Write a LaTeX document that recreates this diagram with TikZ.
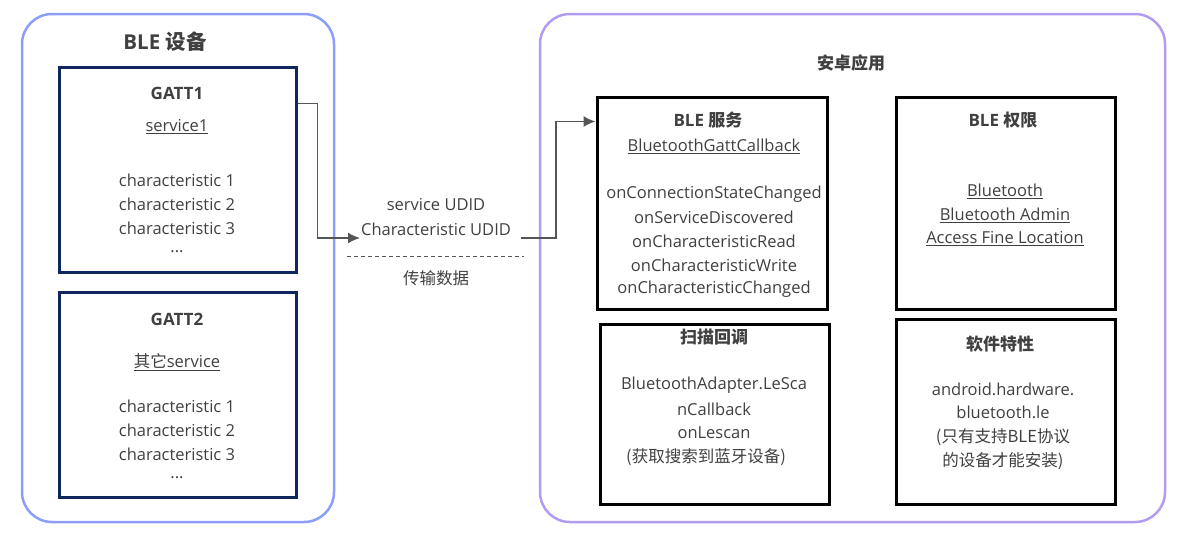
\documentclass[tikz,border=0pt]{standalone}
\usepackage{fontspec}
\setmainfont{Open Sans}
\newfontfamily\cjk{Noto Sans CJK SC}
\usetikzlibrary{arrows.meta}
\definecolor{devblue}{HTML}{8C9EF7}
\definecolor{applilac}{HTML}{B19CF0}
\definecolor{gattnavy}{HTML}{10265E}
\definecolor{txtgray}{HTML}{404040}
\definecolor{linegray}{HTML}{555555}
\tikzset{
	outerbox/.style={draw, line width=2.5pt, rounded corners=30pt, inner sep=0pt},
	gattbox/.style={draw=gattnavy, line width=3pt, inner sep=0pt, minimum width=237pt, minimum height=205pt},
	appbox/.style={draw=black, line width=3pt, inner sep=0pt},
	txt/.style={text=txtgray, font=\fontsize{16.5}{19}\selectfont, inner sep=0pt},
	ttl/.style={text=txtgray, font=\fontsize{17}{20}\selectfont\bfseries, inner sep=0pt},
	conn/.style={draw=linegray, line width=1.6pt, -{Latex[length=12pt,width=11pt]}},
}
\begin{document}
\begin{tikzpicture}[x=1pt, y=-1pt]
			\useasboundingbox (0,0) rectangle (1182,542);
			%%draw the frames
			\node[outerbox, draw=devblue, minimum width=312pt, minimum height=508pt] (dev) at (178,268) {};
			\node[outerbox, draw=applilac, minimum width=625pt, minimum height=508pt] (app) at (852.5,268) {};
				\node[ttl, font=\fontsize{20.5}{24}\selectfont\bfseries] (devtitle) at (165,42) {BLE {\cjk 设备}};
				\node[ttl] (apptitle) at (851,63) {{\cjk 安卓应用}};

			%%GATT1
			\node[gattbox] (gattA) at (177.5,169.5) {};
				\node[ttl] (gattAtitle) at (177,93) {GATT1};
				\node[txt] (gattAsvc) at (177,127) {\underline{service1}};
				\node[txt] (gattAc1) at (177,180) {characteristic 1};
				\node[txt] (gattAc2) at (177,204) {characteristic 2};
				\node[txt] (gattAc3) at (177,228) {characteristic 3};
				\node[txt] (gattAdots) at (177,252) {...};
			%%GATT2
			\node[gattbox] (gattB) at (177.5,395) {};
				\node[ttl] (gattBtitle) at (177,319) {GATT2};
				\node[txt] (gattBsvc) at (177,362) {\underline{{\cjk 其它}service}};
				\node[txt] (gattBc1) at (177,406) {characteristic 1};
				\node[txt] (gattBc2) at (177,430) {characteristic 2};
				\node[txt] (gattBc3) at (177,454) {characteristic 3};
				\node[txt] (gattBdots) at (177,478) {...};

			%%BLE service
			\node[appbox, minimum width=230pt, minimum height=212pt] (svc) at (712,203) {};
				\node[ttl] (svctitle) at (708,120) {BLE {\cjk 服务}};
				\node[txt] (svccb) at (714,146) {\underline{BluetoothGattCallback}};
				\node[txt] (svcl1) at (714,194) {onConnectionStateChanged};
				\node[txt] (svcl2) at (714,217) {onServiceDiscovered};
				\node[txt] (svcl3) at (714,241) {onCharacteristicRead};
				\node[txt] (svcl4) at (714,265) {onCharacteristicWrite};
				\node[txt] (svcl5) at (714,289) {onCharacteristicChanged};
			%%BLE permission
			\node[appbox, minimum width=219pt, minimum height=212pt] (perm) at (1005.5,203) {};
				\node[ttl] (permtitle) at (1003,120) {BLE {\cjk 权限}};
				\node[txt] (perml1) at (1005,191) {\underline{Bluetooth}};
				\node[txt] (perml2) at (1005,215) {\underline{Bluetooth Admin}};
				\node[txt] (perml3) at (1005,239) {\underline{Access Fine Location}};
			%%scan callback
			\node[appbox, minimum width=229pt, minimum height=180pt] (scan) at (714.5,414) {};
				\node[ttl] (scantitle) at (714,337) {{\cjk 扫描回调}};
				\node[txt] (scanl1) at (714,385) {BluetoothAdapter.LeSca};
				\node[txt] (scanl2) at (714,409) {nCallback};
				\node[txt] (scanl3) at (714,433) {onLescan};
				\node[txt] (scanl4) at (706,457) {{\cjk (获取搜索到蓝牙设备)}};
			%%software feature
			\node[appbox, minimum width=219pt, minimum height=185pt] (feat) at (1005.5,411.5) {};
				\node[ttl] (feattitle) at (1000,344) {{\cjk 软件特性}};
				\node[txt] (featl1) at (1003,389) {android.hardware.};
				\node[txt] (featl2) at (1003,412) {bluetooth.le};
				\node[txt] (featl3) at (1003,437) {{\cjk (只有支持BLE协议}};
				\node[txt] (featl4) at (1003,461) {{\cjk 的设备才能安装)}};

			%%transfer in the middle
			\node[txt] (sudid) at (436,205) {service UDID};
			\node[txt] (cudid) at (436,229) {Characteristic UDID};
			\node[txt] (transfer) at (436,278) {{\cjk 传输数据}};
			\draw[linegray, line width=0.8pt, dash pattern=on 4pt off 3pt] (347,256) to (524,256);
			\coordinate (midin) at (360,238);
			\coordinate (midout) at (521,238);
			\draw[conn] ([yshift=-38pt]gattA.north east) -- ++(20,0) |- (midin);
			\draw[conn] (midout) -- ++(35,0) |- ([yshift=-26pt]svc.north west);
\end{tikzpicture}
\end{document}
